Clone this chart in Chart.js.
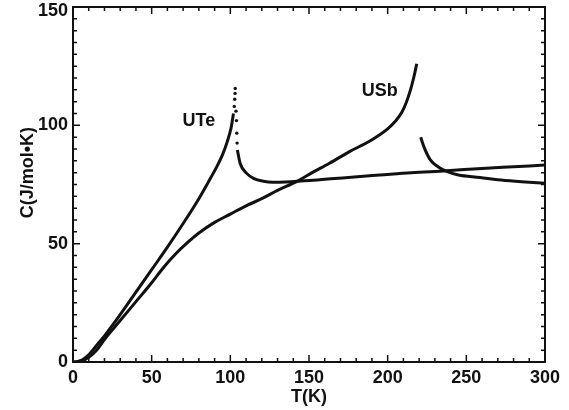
<!DOCTYPE html>
<html>
<head>
<meta charset="utf-8">
<script src="https://cdn.jsdelivr.net/npm/chart.js@4/dist/chart.umd.min.js"></script>
<style>
  html, body { margin: 0; padding: 0; background: #fff; }
  #wrap { width: 569px; height: 410px; }
</style>
</head>
<body>
<div id="wrap"><canvas id="heatChart" width="569" height="410"></canvas></div>
<script>
// UTe below the ordering temperature
const uteLowT = [0, 3, 6, 10, 15, 20, 25, 30, 40, 50, 60, 70, 80, 86, 91, 95, 98, 100.5, 102];
const uteLowC = [0, 0.2, 0.9, 3, 7, 11, 15.5, 20, 29.5, 39, 48.5, 58.5, 69, 76, 82, 87.5, 93, 99, 105];
// sparse points right at the UTe peak
const utePeakT = [102.5, 102.8, 103, 103.1, 103.6, 103.9, 104.1, 104.3];
const utePeakC = [108, 111, 113.5, 115.6, 106, 102, 96.7, 92.5];
// UTe above the ordering temperature
const uteHighT = [104.5, 106.2, 110.4, 115, 121, 127, 135, 152.8, 175, 195, 215, 237.5, 260, 280, 300];
const uteHighC = [89.6, 84, 79.7, 77.5, 76.4, 76, 76.1, 76.8, 78, 79, 80, 80.8, 81.8, 82.5, 83.2];
// USb below and above its peak
const usbLowT = [0, 5, 10, 15, 20, 30, 40, 50, 57, 65, 72, 80, 90, 100, 110, 120, 130, 142, 152, 163, 176, 189, 200, 205, 209, 212, 214.5, 216.5, 218.5];
const usbLowC = [0, 0.3, 2, 5, 9.5, 17.5, 25.5, 33.5, 39.5, 45.5, 50, 54.5, 59, 62.5, 66, 69, 72.5, 76.2, 80, 84, 89, 93.5, 98.5, 101.8, 105.5, 110, 115, 120, 126];
const usbHighT = [221, 223, 227, 232, 237.5, 245, 258.7, 270, 285, 300];
const usbHighC = [95, 91, 85.5, 82.5, 80.5, 79, 78, 77, 76.2, 75.5];

// curve names written on the plot
const curveNames = ['UTe', 'USb'];
const nameT = [80, 195];
const nameC = [101.8, 114.5];

const xTicks = [0, 50, 100, 150, 200, 250, 300];
const yTicks = [0, 50, 100, 150];

const pts = (xs, ys) => xs.map((x, i) => ({ x: x, y: ys[i] }));
const ink = '#111';
const FONT = '"Liberation Sans", Arial, sans-serif';

// frame on all four sides with ticks pointing inward, curve names, y title
const framePlugin = {
  id: 'frame',
  afterDatasetsDraw(chart) {
    const { ctx, chartArea: a, scales } = chart;
    const xs = scales.x, ys = scales.y;
    ctx.save();
    ctx.strokeStyle = ink;
    ctx.lineWidth = 2;
    ctx.strokeRect(a.left, a.top, a.right - a.left, a.bottom - a.top);
    ctx.lineWidth = 1.5;
    ctx.beginPath();
    for (let t = 0; t <= 300; t += 10) {
      const px = xs.getPixelForValue(t);
      const len = t % 50 === 0 ? 7 : 4;
      ctx.moveTo(px, a.bottom); ctx.lineTo(px, a.bottom - len);
      ctx.moveTo(px, a.top); ctx.lineTo(px, a.top + len);
    }
    for (let c = 0; c <= 150; c += 5) {
      const py = ys.getPixelForValue(c);
      const len = c % 50 === 0 ? 7 : 4;
      ctx.moveTo(a.left, py); ctx.lineTo(a.left + len, py);
      ctx.moveTo(a.right, py); ctx.lineTo(a.right - len, py);
    }
    ctx.stroke();

    ctx.fillStyle = ink;
    ctx.font = 'bold 18px ' + FONT;
    ctx.textBaseline = 'middle';

    // top y label, nudged down so it stays inside the canvas
    ctx.textAlign = 'right';
    ctx.fillText(String(yTicks[yTicks.length - 1]), a.left - 5, ys.getPixelForValue(150) + 4);

    ctx.textAlign = 'center';
    curveNames.forEach((n, i) => {
      ctx.fillText(n, xs.getPixelForValue(nameT[i]), ys.getPixelForValue(nameC[i]));
    });

    // y axis title, sitting a little above the middle of the axis
    ctx.translate(28, ys.getPixelForValue(80));
    ctx.rotate(-Math.PI / 2);
    ctx.fillText('C(J/mol•K)', 0, 0);
    ctx.restore();
  }
};

const lineSet = (data) => ({
  data: data,
  showLine: true,
  borderColor: ink,
  borderWidth: 3,
  pointRadius: 0,
  cubicInterpolationMode: 'monotone',
  fill: false
});

const tickFont = { family: FONT, size: 18, weight: 'bold' };

new Chart(document.getElementById('heatChart'), {
  type: 'scatter',
  data: {
    datasets: [
      lineSet(pts(uteLowT, uteLowC)),
      {
        data: pts(utePeakT, utePeakC),
        showLine: false,
        pointRadius: 1.7,
        pointBackgroundColor: ink,
        pointBorderWidth: 0
      },
      lineSet(pts(uteHighT, uteHighC)),
      lineSet(pts(usbLowT, usbLowC)),
      lineSet(pts(usbHighT, usbHighC))
    ]
  },
  options: {
    responsive: false,
    animation: false,
    layout: { padding: { top: 7, right: 24, left: 0, bottom: 0 } },
    plugins: {
      legend: { display: false },
      tooltip: { enabled: false }
    },
    scales: {
      x: {
        type: 'linear',
        min: 0, max: 300,
        afterBuildTicks: (s) => { s.ticks = xTicks.map(v => ({ value: v })); },
        afterFit: (s) => { s.height = 48; s.paddingLeft = 0; s.paddingRight = 0; },
        grid: { display: false, drawTicks: false },
        border: { display: false },
        ticks: { color: ink, padding: 5, font: tickFont },
        title: {
          display: true, text: 'T(K)', color: ink,
          padding: { top: 0, bottom: 2 },
          font: tickFont
        }
      },
      y: {
        type: 'linear',
        min: 0, max: 150,
        afterBuildTicks: (s) => { s.ticks = yTicks.map(v => ({ value: v })); },
        afterFit: (s) => { s.width = 73; s.paddingTop = 0; s.paddingBottom = 0; },
        grid: { display: false, drawTicks: false },
        border: { display: false },
        ticks: {
          color: ink, padding: 5, font: tickFont,
          // the top label is drawn by the frame plugin
          callback: (v) => (v === 150 ? '' : v)
        }
      }
    }
  },
  plugins: [framePlugin]
});
</script>
</body>
</html>
